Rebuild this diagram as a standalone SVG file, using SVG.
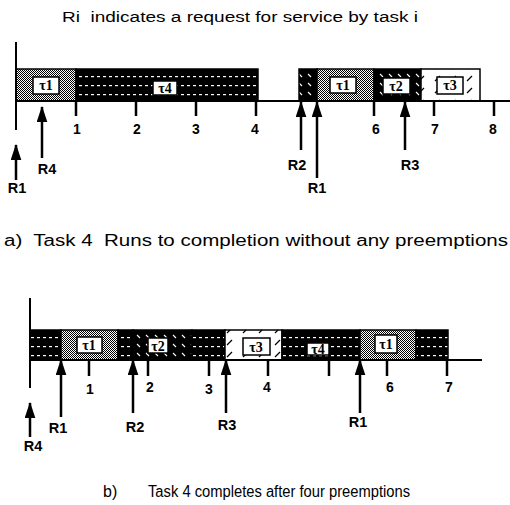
<svg xmlns="http://www.w3.org/2000/svg" width="510" height="505" viewBox="0 0 510 505">
<style>
text{font-family:"Liberation Sans",Arial,sans-serif;fill:#000;white-space:pre}
.cap{font-size:15.5px}
.capa{font-size:16px}
.capb{font-size:16px}
.num{font-size:14px;font-weight:bold;text-anchor:middle}
.rl{font-size:14.5px;font-weight:bold;text-anchor:middle}
.tl{font-family:"Liberation Serif","Times New Roman",serif;font-size:14px;font-weight:bold;text-anchor:middle}
.ax{stroke:#000;stroke-width:2;fill:none}
.tk{stroke:#000;stroke-width:2.5}
.seg{stroke:#000;stroke-width:1.5}
.box{fill:#fff;stroke:#000;stroke-width:1.5}
.arr{stroke:#000;stroke-width:2.5;marker-end:url(#ah)}
.t1{fill:url(#p1)}
.t2{fill:url(#p2)}
.t3{fill:url(#p3)}
.t4{fill:url(#p4)}
</style>
<defs>
<marker id="ah" viewBox="0 0 15 10" refX="14" refY="5" markerWidth="16" markerHeight="11" markerUnits="userSpaceOnUse" orient="auto">
<path d="M0,0 L15,5 L0,10 Z" fill="#000"/>
</marker>
<pattern id="p1" width="2" height="2" patternUnits="userSpaceOnUse">
<rect width="2" height="2" fill="#fff"/>
<rect width="1" height="1" fill="#000"/>
<rect x="1" y="1" width="1" height="1" fill="#000"/>
</pattern>
<pattern id="p4" width="12" height="9" patternUnits="userSpaceOnUse">
<rect width="12" height="9" fill="#000"/>
<rect x="1" y="4" width="3" height="1.2" fill="#fff"/>
<rect x="7" y="4" width="3" height="1.2" fill="#fff"/>
</pattern>
<pattern id="p2" width="9" height="9" patternUnits="userSpaceOnUse">
<rect width="9" height="9" fill="#000"/>
<path d="M2,2 L5,5" stroke="#fff" stroke-width="1.1"/>
</pattern>
<pattern id="p3" width="16" height="12" patternUnits="userSpaceOnUse">
<rect width="16" height="12" fill="#fff"/>
<path d="M3,9 L8,4" stroke="#000" stroke-width="1.3"/>
</pattern>
</defs>

<g id="title">
<text class="cap" x="62" y="22" textLength="356" lengthAdjust="spacingAndGlyphs">Ri  indicates a request for service by task i</text>
</g>

<!-- ===== Part a ===== -->
<g id="a-bar1">
<rect class="t1 seg" x="16" y="69" width="60" height="32"/>
<rect class="t4 seg" x="76" y="69" width="182" height="32"/>
</g>
<g id="a-bar2">
<rect class="t2 seg" x="299" y="69" width="18" height="32"/>
<rect class="t1 seg" x="317" y="69" width="57" height="32"/>
<rect class="t2 seg" x="374" y="69" width="47" height="32"/>
<rect class="t3 seg" x="421" y="69" width="59" height="32"/>
</g>
<g id="a-labels">
<rect class="box" x="33" y="77" width="26" height="17"/><text class="tl" x="46" y="90">τ1</text>
<rect class="box" x="153" y="81" width="24" height="14"/><text class="tl" x="165" y="93">τ4</text>
<rect class="box" x="330" y="77" width="26" height="16"/><text class="tl" x="343" y="90">τ1</text>
<rect class="box" x="383" y="78" width="27" height="16"/><text class="tl" x="396" y="91">τ2</text>
<rect class="box" x="437" y="77" width="26" height="17"/><text class="tl" x="450" y="90">τ3</text>
</g>
<g id="a-axis">
<line class="ax" x1="16" y1="42" x2="16" y2="130"/>
<line class="ax" x1="16" y1="101" x2="510" y2="101"/>
<line class="tk" x1="76" y1="101" x2="76" y2="116"/>
<line class="tk" x1="136" y1="101" x2="136" y2="116"/>
<line class="tk" x1="196" y1="101" x2="196" y2="116"/>
<line class="tk" x1="256" y1="101" x2="256" y2="116"/>
<line class="tk" x1="374" y1="101" x2="374" y2="116"/>
<line class="tk" x1="434" y1="101" x2="434" y2="116"/>
<line class="tk" x1="494" y1="101" x2="494" y2="116"/>
<text class="num" x="77" y="134">1</text>
<text class="num" x="137" y="134">2</text>
<text class="num" x="196" y="134">3</text>
<text class="num" x="255" y="134">4</text>
<text class="num" x="376" y="134">6</text>
<text class="num" x="435" y="134">7</text>
<text class="num" x="493" y="134">8</text>
</g>
<g id="a-connectors">
<line class="arr" x1="42" y1="158" x2="42" y2="107"/>
<line class="arr" x1="16" y1="180" x2="16" y2="145"/>
<line class="arr" x1="301" y1="150" x2="301" y2="102"/>
<line class="arr" x1="317" y1="178" x2="317" y2="102"/>
<line class="arr" x1="405" y1="150" x2="405" y2="102"/>
</g>
<g id="a-requests">
<text class="rl" x="47" y="174">R4</text>
<text class="rl" x="17" y="193">R1</text>
<text class="rl" x="297" y="170">R2</text>
<text class="rl" x="317" y="193">R1</text>
<text class="rl" x="410" y="170">R3</text>
</g>
<g id="caption-a">
<text class="capa" x="4" y="246" textLength="504" lengthAdjust="spacingAndGlyphs">a)  Task 4  Runs to completion without any preemptions</text>
</g>

<!-- ===== Part b ===== -->
<g id="b-bar">
<rect class="t4 seg" x="30" y="330" width="31" height="30"/>
<rect class="t1 seg" x="61" y="330" width="57" height="30"/>
<rect class="t4 seg" x="118" y="330" width="15" height="30"/>
<rect class="t2 seg" x="133" y="330" width="59" height="30"/>
<rect class="t4 seg" x="192" y="330" width="33" height="30"/>
<rect class="t3 seg" x="225" y="330" width="57" height="30"/>
<rect class="t4 seg" x="282" y="330" width="78" height="30"/>
<rect class="t1 seg" x="360" y="330" width="56" height="30"/>
<rect class="t4 seg" x="416" y="330" width="32" height="30"/>
</g>
<g id="b-labels">
<rect class="box" x="77" y="337" width="25" height="16"/><text class="tl" x="89" y="350">τ1</text>
<rect class="box" x="148" y="338" width="20" height="15"/><text class="tl" x="158" y="351">τ2</text>
<rect class="box" x="243" y="338" width="27" height="17"/><text class="tl" x="256" y="352">τ3</text>
<rect class="box" x="307" y="343" width="22" height="12"/><text class="tl" x="318" y="354">τ4</text>
<rect class="box" x="375" y="335" width="22" height="18"/><text class="tl" x="386" y="349">τ1</text>
</g>
<g id="b-axis">
<line class="ax" x1="30" y1="298" x2="30" y2="388"/>
<line class="ax" x1="30" y1="360" x2="482" y2="360"/>
<line class="tk" x1="89" y1="360" x2="89" y2="376"/>
<line class="tk" x1="148" y1="360" x2="148" y2="376"/>
<line class="tk" x1="209" y1="360" x2="209" y2="376"/>
<line class="tk" x1="268" y1="360" x2="268" y2="376"/>
<line class="tk" x1="329" y1="360" x2="329" y2="376"/>
<line class="tk" x1="387" y1="360" x2="387" y2="376"/>
<line class="tk" x1="447" y1="360" x2="447" y2="376"/>
<text class="num" x="90" y="394">1</text>
<text class="num" x="150" y="392">2</text>
<text class="num" x="209" y="394">3</text>
<text class="num" x="267" y="392">4</text>
<text class="num" x="390" y="392">6</text>
<text class="num" x="449" y="392">7</text>
</g>
<g id="b-connectors">
<line class="arr" x1="61" y1="417" x2="61" y2="360"/>
<line class="arr" x1="133" y1="413" x2="133" y2="360"/>
<line class="arr" x1="226" y1="413" x2="226" y2="360"/>
<line class="arr" x1="360" y1="413" x2="360" y2="360"/>
<line class="arr" x1="30" y1="437" x2="30" y2="403"/>
</g>
<g id="b-requests">
<text class="rl" x="58" y="433">R1</text>
<text class="rl" x="135" y="432">R2</text>
<text class="rl" x="227" y="430">R3</text>
<text class="rl" x="358" y="427">R1</text>
<text class="rl" x="33" y="451">R4</text>
</g>
<g id="caption-b">
<text class="capb" x="103" y="497">b)</text>
<text class="capb" x="148" y="497" textLength="262" lengthAdjust="spacingAndGlyphs">Task 4 completes after four preemptions</text>
</g>
</svg>
